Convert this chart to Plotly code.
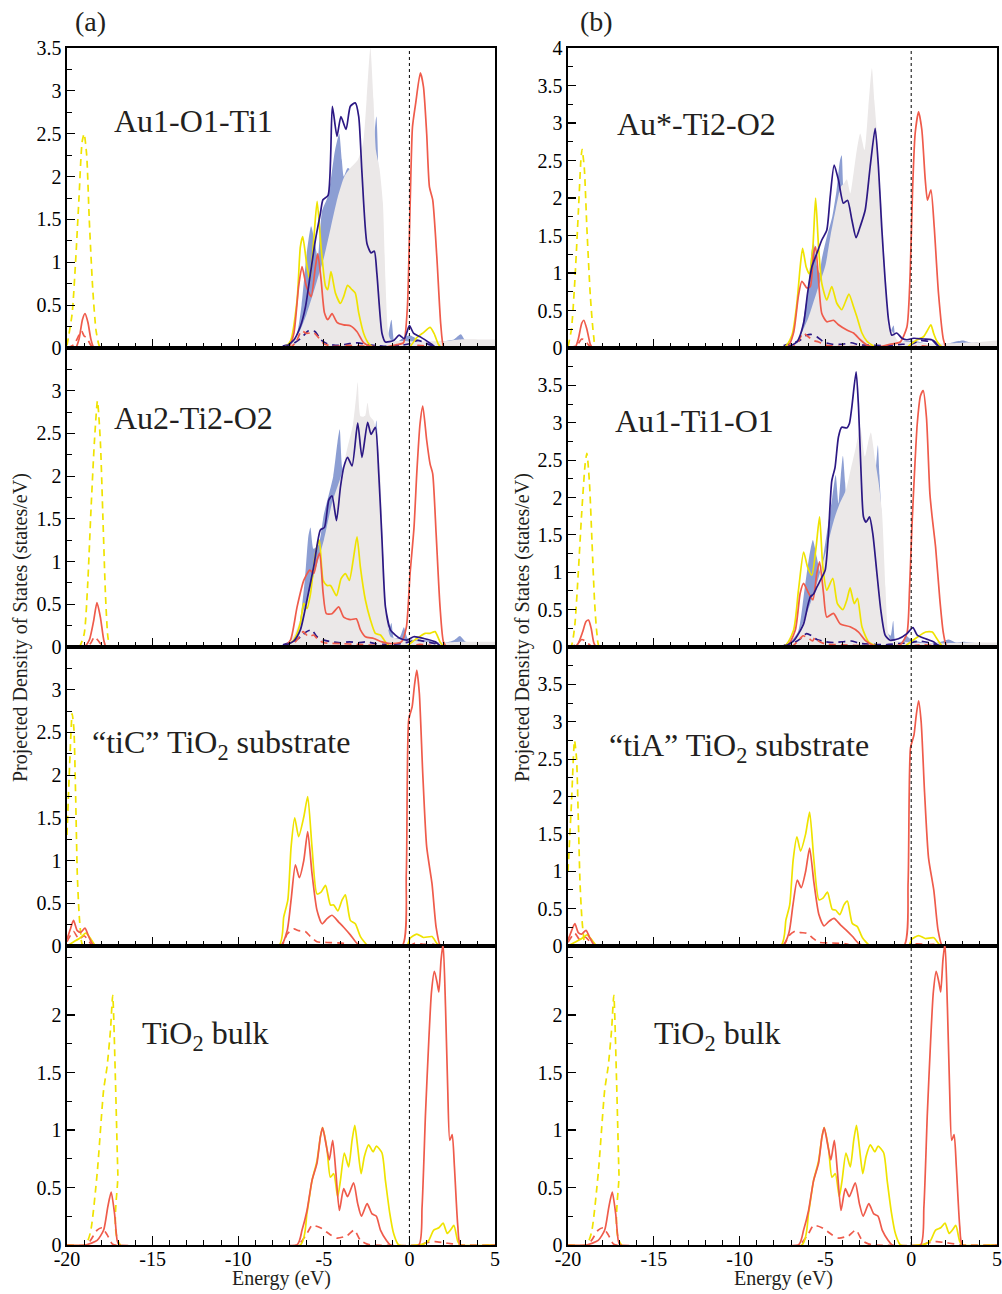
import plotly.graph_objects as go

# ---------------- data (energy eV, PDOS states/eV) ----------------
# Row 1, panel (a): Au1-O1-Ti1
A1_GREY = [(-7.4,0),(-6.8,0.08),(-6.4,0.2),(-6.0,0.4),(-5.6,0.65),(-5.3,0.85),(-5.0,1.05),(-4.6,1.4),(-4.2,1.75),(-3.8,2.0),(-3.45,2.1),(-3.0,2.2),(-2.7,2.4),(-2.5,2.9),(-2.28,3.5),(-2.1,2.9),(-1.95,2.3),(-1.75,2.1),(-1.55,1.7),(-1.4,0.8),(-1.25,0.2),(-1.1,0.1),(0,0.08),(1,0.08),(2,0.08),(3,0.1),(4,0.1),(5,0.1)]
A1_BLUE = [(-7.2,0),(-6.6,0.15),(-6.3,0.5),(-6.0,1.1),(-5.74,1.42),(-5.5,1.2),(-5.35,1.05),(-5.1,1.6),(-4.8,1.75),(-4.6,1.95),(-4.35,2.3),(-4.1,2.5),(-3.95,2.2),(-3.83,2.0),(-3.6,2.1),(-3.0,2.0),(-2.5,2.0),(-2.15,2.3),(-1.93,2.7),(-1.8,2.0),(-1.65,1.0),(-1.5,0.3),(-1.3,0.1),(-1.05,0.33),(-0.85,0.05),(-0.5,0.1),(0,0.15),(0.5,0.1),(1.0,0.05),(2.0,0.08),(2.6,0.1),(3.0,0.16),(3.3,0.08),(4.0,0.08),(5.0,0.05)]
A1_NAVY = [(-20,0),(-8.0,0),(-7.3,0.01),(-6.76,0.09),(-6.37,0.25),(-6.07,0.48),(-5.78,0.87),(-5.49,1.26),(-5.2,1.57),(-5.05,1.73),(-4.75,1.78),(-4.5,2.82),(-4.23,2.47),(-4.0,2.70),(-3.7,2.55),(-3.45,2.82),(-3.16,2.86),(-2.96,2.70),(-2.77,2.04),(-2.48,1.22),(-2.24,1.11),(-2.05,1.13),(-1.9,0.87),(-1.6,0.17),(-1.4,0.07),(-0.9,0.09),(-0.6,0.15),(-0.3,0.11),(0.0,0.26),(0.25,0.17),(0.64,0.13),(1.32,0.04),(1.6,0),(5,0)]
A1_NAVY_D = [(-20,0),(-8.2,0),(-7.5,0.02),(-6.8,0.05),(-6.3,0.12),(-5.9,0.2),(-5.5,0.19),(-5.2,0.1),(-4.8,0.05),(-4.2,0.03),(-3.5,0.05),(-3.0,0.06),(-2.5,0.04),(-2.0,0.03),(-1.5,0.02),(-0.5,0.03),(0,0.05),(0.5,0.09),(0.9,0.06),(1.3,0.03),(1.8,0),(5,0)]
A1_YEL = [(-20,0),(-7.4,0),(-6.95,0.08),(-6.56,0.56),(-6.37,1.18),(-6.23,1.30),(-5.98,0.95),(-5.82,0.8),(-5.59,1.26),(-5.39,1.71),(-5.16,1.18),(-4.9,0.72),(-4.77,0.68),(-4.58,0.89),(-4.32,0.64),(-4.03,0.52),(-3.84,0.6),(-3.61,0.73),(-3.35,0.68),(-3.16,0.64),(-2.96,0.41),(-2.67,0.17),(-2.37,0.05),(-2.0,0),(-0.3,0),(0.04,0.02),(0.43,0.12),(0.82,0.18),(1.21,0.24),(1.44,0.17),(1.7,0.04),(1.9,0),(5,0)]
A1_YEL_D = [(-20,0.03),(-19.7,0.4),(-19.5,1.0),(-19.3,1.75),(-19.12,2.4),(-19.0,2.5),(-18.85,2.25),(-18.7,1.5),(-18.5,0.7),(-18.3,0.2),(-18.1,0.02),(-17.9,0),(5,0)]
A1_RED = [(-20,0),(-19.5,0),(-19.3,0.1),(-19.1,0.33),(-18.95,0.4),(-18.78,0.3),(-18.6,0.1),(-18.4,0),(-7.1,0),(-6.76,0.16),(-6.47,0.72),(-6.27,0.95),(-6.02,0.72),(-5.74,0.6),(-5.49,0.95),(-5.35,1.1),(-5.16,0.8),(-4.96,0.41),(-4.77,0.33),(-4.52,0.4),(-4.23,0.3),(-3.84,0.27),(-3.45,0.26),(-3.06,0.19),(-2.67,0.06),(-2.28,0.02),(-1.5,0.01),(-0.74,0.04),(-0.35,0.06),(-0.12,0.47),(0.04,1.65),(0.18,2.58),(0.37,2.86),(0.64,3.21),(0.82,3.05),(1.01,2.5),(1.17,1.88),(1.36,1.73),(1.6,1.07),(1.83,0.28),(1.99,0.02),(2.2,0),(5,0)]
A1_RED_D = [(-20,0),(-19.6,0.04),(-19.3,0.15),(-19.15,0.2),(-19.0,0.14),(-18.85,0.12),(-18.6,0.03),(-18.4,0),(-7.0,0),(-6.6,0.08),(-6.3,0.2),(-6.0,0.17),(-5.6,0.18),(-5.3,0.12),(-5.0,0.05),(-4.5,0.02),(-3.5,0.03),(-2.5,0.02),(-1.5,0.01),(0.0,0.01),(0.5,0.03),(1.0,0.02),(1.5,0),(5,0)]

# Row 1, panel (b): Au*-Ti2-O2
B1_GREY = [(-7.3,0),(-6.8,0.08),(-6.5,0.15),(-6.0,0.4),(-5.5,0.75),(-5.0,1.1),(-4.7,1.5),(-4.4,1.85),(-4.1,2.15),(-3.9,2.2),(-3.75,2.25),(-3.55,2.06),(-3.36,2.33),(-3.17,2.64),(-2.97,2.86),(-2.72,2.64),(-2.5,3.2),(-2.29,3.73),(-2.15,3.3),(-2.04,3.0),(-1.88,2.3),(-1.72,1.89),(-1.52,1.0),(-1.32,0.28),(-1.03,0.2),(-0.8,0.1),(0,0.08),(1,0.06),(2,0.06),(3,0.07),(4,0.08),(5,0.1)]
B1_BLUE = [(-7.1,0),(-6.5,0.15),(-6.2,0.5),(-6.0,0.8),(-5.8,1.3),(-5.68,1.4),(-5.5,1.1),(-5.35,1.0),(-5.2,1.2),(-4.9,1.5),(-4.6,1.75),(-4.35,2.1),(-4.15,2.5),(-4.05,2.57),(-3.9,2.0),(-3.6,1.9),(-3.0,2.0),(-2.5,2.1),(-2.1,2.4),(-1.85,2.2),(-1.6,1.0),(-1.4,0.3),(-1.25,0.2),(-1.03,0.3),(-0.85,0.05),(-0.5,0.08),(0,0.1),(0.5,0.08),(1.0,0.05),(2.0,0.05),(2.5,0.08),(3.0,0.1),(3.5,0.07),(4.0,0.08),(4.5,0.06),(5.0,0.05)]
B1_NAVY = [(-20,0),(-7.44,0),(-6.66,0.08),(-6.27,0.33),(-6.04,0.73),(-5.79,1.08),(-5.5,1.26),(-5.21,1.44),(-4.92,1.57),(-4.72,2.02),(-4.49,2.44),(-4.24,2.24),(-3.95,1.93),(-3.71,1.97),(-3.46,1.71),(-3.21,1.47),(-2.97,1.62),(-2.68,1.84),(-2.39,2.42),(-2.1,2.93),(-1.91,2.42),(-1.72,1.62),(-1.52,0.91),(-1.32,0.37),(-1.13,0.17),(-0.84,0.2),(-0.54,0.13),(-0.25,0.11),(0.14,0.13),(0.72,0.12),(1.2,0.11),(1.5,0.04),(1.8,0),(5,0)]
B1_NAVY_D = [(-20,0),(-8.0,0),(-7.5,0.03),(-7.0,0.06),(-6.5,0.1),(-6.1,0.17),(-5.8,0.18),(-5.5,0.15),(-5.1,0.08),(-4.6,0.05),(-4.0,0.05),(-3.5,0.07),(-3.0,0.04),(-2.5,0.04),(-1.5,0.03),(-0.5,0.05),(0,0.05),(0.5,0.1),(1.0,0.09),(1.3,0.1),(1.6,0.03),(2.0,0),(5,0)]
B1_YEL = [(-20,0),(-7.44,0),(-6.95,0.17),(-6.66,0.6),(-6.47,1.08),(-6.33,1.33),(-6.12,1.08),(-5.94,0.99),(-5.73,1.35),(-5.57,2.0),(-5.4,1.35),(-5.21,0.86),(-4.92,0.64),(-4.63,0.82),(-4.34,0.6),(-4.05,0.51),(-3.86,0.6),(-3.63,0.72),(-3.36,0.55),(-3.17,0.42),(-2.87,0.2),(-2.58,0.09),(-2.29,0.04),(-2.0,0),(-0.3,0),(-0.04,0.05),(0.35,0.11),(0.72,0.15),(0.91,0.22),(1.15,0.31),(1.3,0.2),(1.5,0.09),(1.88,0),(5,0)]
B1_YEL_D = [(-20,0.02),(-19.8,0.25),(-19.6,0.9),(-19.4,1.8),(-19.25,2.5),(-19.18,2.65),(-19.05,2.4),(-18.9,1.6),(-18.7,0.7),(-18.5,0.15),(-18.35,0),(5,0)]
B1_RED = [(-20,0),(-19.6,0),(-19.4,0.12),(-19.2,0.33),(-19.08,0.37),(-18.9,0.25),(-18.7,0.05),(-18.55,0),(-7.25,0),(-6.86,0.2),(-6.57,0.7),(-6.37,0.89),(-6.08,0.8),(-5.88,0.82),(-5.69,1.26),(-5.57,1.35),(-5.4,0.9),(-5.21,0.46),(-4.92,0.35),(-4.53,0.37),(-4.24,0.31),(-3.75,0.24),(-3.36,0.2),(-2.97,0.11),(-2.58,0.04),(-2.0,0.01),(-1.23,0.05),(-0.64,0.08),(-0.25,0.28),(-0.06,1.0),(0.08,2.11),(0.23,2.86),(0.43,3.15),(0.62,2.91),(0.82,2.24),(0.95,1.97),(1.15,2.11),(1.34,1.62),(1.59,0.73),(1.88,0.11),(2.07,0),(5,0)]
B1_RED_D = [(-20,0),(-19.5,0.03),(-19.2,0.12),(-19.0,0.1),(-18.8,0.04),(-18.5,0),(-7.0,0),(-6.6,0.08),(-6.3,0.2),(-6.0,0.15),(-5.7,0.1),(-5.4,0.08),(-5.0,0.04),(-4.0,0.02),(-3.0,0.02),(0,0.01),(0.5,0.03),(1.0,0.02),(1.5,0),(5,0)]

# Row 2, panel (a): Au2-Ti2-O2
A2_GREY = [(-7.4,0),(-6.8,0.12),(-6.5,0.25),(-6.0,0.55),(-5.5,0.9),(-5.0,1.25),(-4.5,1.7),(-4.0,2.0),(-3.6,2.35),(-3.3,2.6),(-3.1,2.95),(-3.02,3.1),(-2.85,2.7),(-2.6,2.7),(-2.45,2.86),(-2.3,2.7),(-2.1,2.65),(-1.9,2.5),(-1.7,2.0),(-1.5,1.0),(-1.3,0.3),(-1.1,0.12),(0,0.08),(1,0.06),(2,0.05),(3,0.06),(4,0.06),(5,0.06)]
A2_BLUE = [(-7.1,0),(-6.5,0.2),(-6.1,0.8),(-5.9,1.3),(-5.78,1.4),(-5.6,1.15),(-5.3,1.2),(-5.0,1.55),(-4.75,1.75),(-4.45,2.0),(-4.2,2.4),(-4.07,2.55),(-3.92,2.1),(-3.7,2.0),(-3.0,2.2),(-2.5,2.3),(-2.1,2.4),(-1.93,2.65),(-1.8,2.2),(-1.6,1.4),(-1.4,0.5),(-1.2,0.2),(-1.05,0.28),(-0.9,0.1),(-0.55,0.12),(-0.32,0.23),(-0.1,0.1),(0.5,0.08),(1.0,0.08),(2.0,0.05),(2.6,0.08),(2.95,0.13),(3.3,0.06),(4.0,0.05),(5.0,0.05)]
A2_NAVY = [(-20,0),(-7.6,0),(-6.76,0.07),(-6.37,0.2),(-5.98,0.55),(-5.59,0.94),(-5.2,1.37),(-4.96,1.4),(-4.71,1.72),(-4.52,1.77),(-4.26,1.48),(-4.03,1.87),(-3.84,2.1),(-3.61,2.22),(-3.35,2.12),(-3.02,2.62),(-2.77,2.22),(-2.44,2.63),(-2.24,2.49),(-1.99,2.57),(-1.79,2.03),(-1.6,1.25),(-1.4,0.47),(-1.11,0.2),(-0.82,0.14),(-0.53,0.1),(-0.14,0.08),(0.25,0.12),(0.84,0.1),(1.52,0.06),(1.9,0),(5,0)]
A2_NAVY_D = [(-20,0),(-8.0,0),(-7.3,0.03),(-6.7,0.07),(-6.3,0.13),(-6.0,0.18),(-5.7,0.2),(-5.4,0.12),(-5.0,0.08),(-4.5,0.06),(-4.0,0.05),(-3.5,0.06),(-3.0,0.05),(-2.5,0.06),(-2.0,0.04),(-1.5,0.03),(-0.5,0.04),(0,0.06),(0.5,0.08),(1.0,0.06),(1.5,0.04),(2.0,0),(5,0)]
A2_YEL = [(-20,0),(-7.4,0),(-6.76,0.08),(-6.37,0.28),(-6.17,0.51),(-5.98,0.45),(-5.78,0.62),(-5.49,1.09),(-5.26,1.25),(-5.04,0.78),(-4.81,0.72),(-4.61,0.72),(-4.26,0.6),(-3.99,0.8),(-3.74,0.86),(-3.51,0.78),(-3.26,1.05),(-3.06,1.29),(-2.86,0.93),(-2.57,0.55),(-2.28,0.32),(-1.99,0.16),(-1.69,0.14),(-1.4,0.06),(-1.1,0),(-0.2,0),(0.04,0.04),(0.43,0.1),(0.92,0.16),(1.21,0.16),(1.5,0.18),(1.79,0.06),(2.05,0),(5,0)]
A2_YEL_D = [(-20,0),(-19.3,0),(-19.0,0.15),(-18.8,0.7),(-18.6,1.6),(-18.4,2.4),(-18.22,2.88),(-18.05,2.4),(-17.9,1.5),(-17.75,0.6),(-17.6,0.1),(-17.45,0),(5,0)]
A2_RED = [(-20,0),(-19.0,0),(-18.7,0.08),(-18.45,0.3),(-18.25,0.52),(-18.05,0.35),(-17.85,0.08),(-17.7,0),(-7.4,0),(-6.95,0.08),(-6.56,0.47),(-6.17,0.78),(-5.82,0.9),(-5.59,0.86),(-5.39,1.02),(-5.24,1.1),(-5.04,0.63),(-4.85,0.39),(-4.52,0.39),(-4.13,0.47),(-3.84,0.35),(-3.45,0.32),(-3.1,0.33),(-2.86,0.2),(-2.57,0.12),(-2.08,0.1),(-1.6,0.06),(-1.11,0.04),(-0.47,0.06),(-0.18,0.23),(0.04,0.86),(0.27,1.4),(0.43,2.03),(0.62,2.61),(0.78,2.82),(1.01,2.42),(1.21,2.14),(1.36,2.03),(1.56,1.33),(1.79,0.47),(1.99,0.06),(2.2,0),(5,0)]
A2_RED_D = [(-20,0),(-18.8,0),(-18.6,0.05),(-18.4,0.12),(-18.2,0.08),(-18.0,0.03),(-17.8,0),(-7.0,0),(-6.5,0.1),(-6.2,0.18),(-5.9,0.12),(-5.6,0.14),(-5.3,0.08),(-5.0,0.05),(-4.0,0.04),(-3.0,0.03),(-2.0,0.02),(0,0.01),(0.6,0.03),(1.2,0.02),(1.6,0),(5,0)]

# Row 2, panel (b): Au1-Ti1-O1
B2_GREY = [(-7.3,0),(-6.8,0.1),(-6.5,0.22),(-6.0,0.5),(-5.5,0.85),(-5.0,1.25),(-4.5,1.7),(-4.2,1.9),(-3.8,2.1),(-3.5,2.4),(-3.2,2.7),(-2.97,2.94),(-2.7,2.55),(-2.5,2.75),(-2.35,2.87),(-2.1,2.5),(-1.9,2.2),(-1.7,1.8),(-1.5,0.8),(-1.35,0.2),(-1.2,0.1),(0,0.06),(1,0.05),(2,0.05),(3,0.06),(4,0.06),(5,0.06)]
B2_BLUE = [(-7.3,0),(-6.6,0.2),(-6.2,0.8),(-5.95,1.2),(-5.73,1.43),(-5.5,1.2),(-5.3,1.0),(-5.0,1.4),(-4.8,1.7),(-4.6,2.0),(-4.4,2.3),(-4.24,1.92),(-4.1,2.3),(-3.98,2.56),(-3.85,2.2),(-3.75,1.95),(-3.5,2.0),(-3.0,2.1),(-2.5,2.2),(-2.2,2.0),(-2.05,2.4),(-1.94,2.7),(-1.85,2.3),(-1.7,1.6),(-1.55,0.8),(-1.4,0.2),(-1.2,0.15),(-1.05,0.35),(-0.9,0.05),(-0.5,0.08),(-0.3,0.15),(0,0.1),(1,0.05),(1.6,0.06),(2.2,0.1),(2.6,0.06),(3,0.07),(4,0.05),(5,0.04)]
B2_NAVY = [(-20,0),(-7.63,0),(-6.86,0.08),(-6.27,0.31),(-6.04,0.54),(-5.88,0.67),(-5.69,0.71),(-5.5,0.8),(-5.21,0.93),(-5.01,1.03),(-4.82,1.52),(-4.63,2.22),(-4.44,2.4),(-4.24,2.81),(-4.05,2.94),(-3.75,2.93),(-3.6,2.99),(-3.46,3.21),(-3.21,3.68),(-3.07,3.21),(-2.92,2.32),(-2.78,1.74),(-2.63,1.67),(-2.43,1.74),(-2.24,1.52),(-2.0,0.99),(-1.77,0.49),(-1.52,0.16),(-1.23,0.09),(-0.74,0.11),(-0.25,0.18),(0.1,0.26),(0.35,0.16),(0.84,0.11),(1.3,0.07),(1.7,0),(5,0)]
B2_NAVY_D = [(-20,0),(-8.0,0),(-7.3,0.03),(-6.8,0.06),(-6.4,0.12),(-6.1,0.18),(-5.8,0.15),(-5.5,0.1),(-5.0,0.07),(-4.5,0.06),(-4.0,0.07),(-3.5,0.08),(-3.0,0.05),(-2.5,0.04),(-1.5,0.03),(-0.5,0.05),(0,0.06),(0.5,0.08),(1.0,0.06),(1.5,0.03),(2.0,0),(5,0)]
B2_YEL = [(-20,0),(-7.44,0),(-6.86,0.22),(-6.57,0.76),(-6.27,1.27),(-6.04,1.07),(-5.79,0.96),(-5.54,1.34),(-5.34,1.74),(-5.15,1.07),(-4.92,0.76),(-4.57,0.92),(-4.3,0.58),(-3.98,0.5),(-3.75,0.63),(-3.56,0.79),(-3.32,0.58),(-3.13,0.65),(-2.87,0.27),(-2.49,0.07),(-2.1,0.02),(-1.8,0),(-0.4,0),(-0.25,0.03),(0.35,0.13),(0.84,0.2),(1.23,0.2),(1.5,0.11),(1.88,0),(5,0)]
B2_YEL_D = [(-20,0),(-19.8,0.02),(-19.6,0.3),(-19.4,1.0),(-19.2,1.8),(-19.0,2.45),(-18.9,2.59),(-18.75,2.2),(-18.6,1.4),(-18.45,0.6),(-18.3,0.15),(-18.15,0),(5,0)]
B2_RED = [(-20,0),(-19.6,0),(-19.4,0.05),(-19.15,0.2),(-18.95,0.34),(-18.8,0.36),(-18.65,0.25),(-18.5,0.06),(-18.35,0),(-7.3,0),(-6.76,0.22),(-6.47,0.72),(-6.27,0.85),(-5.98,0.72),(-5.73,0.63),(-5.5,0.99),(-5.34,1.14),(-5.11,0.72),(-4.92,0.4),(-4.53,0.45),(-4.14,0.31),(-3.56,0.27),(-3.07,0.2),(-2.68,0.09),(-2.2,0.02),(-1.5,0.01),(-0.64,0.03),(-0.25,0.18),(-0.1,0.76),(0.04,1.6),(0.19,2.32),(0.35,2.98),(0.54,3.36),(0.7,3.43),(0.89,3.07),(1.09,2.05),(1.22,1.74),(1.42,1.34),(1.67,0.63),(1.88,0.18),(2.11,0),(5,0)]
B2_RED_D = [(-20,0),(-19.5,0.03),(-19.2,0.1),(-19.0,0.08),(-18.7,0.02),(-18.5,0),(-7.0,0),(-6.6,0.08),(-6.3,0.15),(-6.0,0.12),(-5.75,0.08),(-5.6,0.13),(-5.4,0.08),(-5.0,0.04),(-4.0,0.03),(-3.0,0.02),(0,0.01),(0.5,0.03),(1.2,0.02),(1.6,0),(5,0)]

# Row 3, panel (a): "tiC" TiO2 substrate
A3_YEL = [(-20,0),(-19.6,0.05),(-19.2,0.1),(-18.9,0.15),(-18.6,0.08),(-18.3,0),(-7.63,0),(-7.34,0.34),(-7.1,0.54),(-6.91,1.16),(-6.7,1.5),(-6.47,1.28),(-6.17,1.51),(-5.94,1.75),(-5.69,1.16),(-5.4,0.61),(-5.16,0.63),(-4.9,0.71),(-4.61,0.48),(-4.42,0.48),(-4.18,0.41),(-3.93,0.54),(-3.74,0.6),(-3.45,0.3),(-3.16,0.26),(-2.86,0.11),(-2.47,0.01),(-2.3,0),(-0.16,0),(0.04,0.09),(0.43,0.14),(0.82,0.1),(1.32,0.11),(1.6,0.03),(1.8,0),(5,0)]
A3_YEL_D = [(-20,1.3),(-19.85,2.1),(-19.7,2.72),(-19.6,2.55),(-19.5,1.8),(-19.4,0.85),(-19.3,0.4),(-19.2,0.15),(-19.05,0),(5,0)]
A3_RED = [(-20,0.08),(-19.8,0.2),(-19.62,0.3),(-19.4,0.18),(-19.2,0.16),(-18.95,0.21),(-18.75,0.12),(-18.5,0.02),(-18.3,0),(-7.53,0),(-7.14,0.18),(-6.91,0.54),(-6.66,0.95),(-6.43,0.8),(-6.17,1.0),(-5.94,1.34),(-5.69,0.85),(-5.4,0.42),(-5.1,0.26),(-4.81,0.32),(-4.52,0.36),(-4.13,0.28),(-3.84,0.22),(-3.45,0.13),(-3.06,0.03),(-2.7,0),(-0.43,0),(-0.18,0.85),(-0.04,2.65),(0.16,2.8),(0.29,3.04),(0.43,3.23),(0.58,2.96),(0.78,2.02),(1.01,1.16),(1.32,0.73),(1.56,0.22),(1.79,0.01),(2.0,0),(5,0)]
A3_RED_D = [(-20,0.05),(-19.62,0.17),(-19.3,0.08),(-19.0,0.12),(-18.7,0.05),(-18.5,0),(-7.5,0),(-7.14,0.14),(-6.76,0.2),(-6.47,0.18),(-6.08,0.17),(-5.78,0.11),(-5.4,0.05),(-4.61,0.04),(-3.84,0.03),(-3.3,0),(0.0,0),(0.3,0.03),(0.8,0.02),(1.4,0.02),(1.7,0),(5,0)]

# Row 3, panel (b): "tiA" TiO2 substrate
B3_YEL = [(-20,0),(-19.6,0.05),(-19.2,0.1),(-18.9,0.15),(-18.6,0.08),(-18.3,0),(-7.6,0),(-7.3,0.35),(-7.08,0.55),(-6.88,1.15),(-6.66,1.46),(-6.45,1.27),(-6.15,1.5),(-5.92,1.79),(-5.67,1.15),(-5.38,0.62),(-5.14,0.64),(-4.88,0.72),(-4.6,0.49),(-4.4,0.48),(-4.16,0.42),(-3.92,0.55),(-3.72,0.6),(-3.43,0.3),(-3.14,0.26),(-2.84,0.11),(-2.45,0.01),(-2.3,0),(-0.16,0),(0.04,0.09),(0.43,0.14),(0.82,0.1),(1.32,0.11),(1.6,0.03),(1.8,0),(5,0)]
B3_YEL_D = [(-20,1.0),(-19.8,1.9),(-19.62,2.75),(-19.5,2.5),(-19.4,1.7),(-19.3,0.85),(-19.2,0.4),(-19.1,0.15),(-18.95,0),(5,0)]
B3_RED = [(-20,0.08),(-19.8,0.2),(-19.6,0.3),(-19.4,0.18),(-19.2,0.16),(-18.95,0.21),(-18.75,0.12),(-18.5,0.02),(-18.3,0),(-7.5,0),(-7.12,0.18),(-6.89,0.55),(-6.64,0.88),(-6.41,0.78),(-6.15,1.0),(-5.92,1.31),(-5.67,0.85),(-5.38,0.42),(-5.08,0.27),(-4.79,0.33),(-4.5,0.37),(-4.11,0.28),(-3.82,0.22),(-3.43,0.13),(-3.04,0.03),(-2.7,0),(-0.43,0),(-0.18,0.85),(-0.04,2.65),(0.16,2.82),(0.29,3.08),(0.43,3.28),(0.58,3.0),(0.78,2.05),(1.01,1.18),(1.32,0.74),(1.56,0.22),(1.79,0.01),(2.0,0),(5,0)]
B3_RED_D = [(-20,0.05),(-19.6,0.17),(-19.3,0.08),(-19.0,0.12),(-18.7,0.05),(-18.5,0),(-7.5,0),(-7.12,0.14),(-6.74,0.2),(-6.45,0.18),(-6.06,0.17),(-5.76,0.11),(-5.38,0.05),(-4.6,0.04),(-3.82,0.03),(-3.3,0),(0.0,0),(0.3,0.03),(0.8,0.02),(1.4,0.02),(1.7,0),(5,0)]

# Row 4: TiO2 bulk (same in both columns)
BULK_YEL = [(-20,0),(-6.37,0),(-5.98,0.28),(-5.69,0.56),(-5.4,0.73),(-5.2,0.94),(-5.07,1.02),(-4.81,0.83),(-4.62,0.59),(-4.42,0.62),(-4.19,0.42),(-4.03,0.56),(-3.8,0.8),(-3.55,0.68),(-3.35,0.91),(-3.19,1.04),(-3.02,0.85),(-2.82,0.62),(-2.63,0.77),(-2.38,0.87),(-2.12,0.81),(-1.93,0.86),(-1.6,0.8),(-1.4,0.56),(-1.15,0.28),(-0.92,0.1),(-0.62,0),(0.84,0.01),(1.13,0.04),(1.42,0.13),(1.72,0.15),(1.97,0.19),(2.21,0.1),(2.4,0.13),(2.6,0.17),(2.83,0.03),(3.0,0),(5,0)]
BULK_YEL_D = [(-20,0),(-18.93,0),(-18.63,0.11),(-18.24,0.62),(-17.86,1.35),(-17.66,1.55),(-17.46,1.87),(-17.33,2.17),(-17.17,1.43),(-17.03,0.62),(-16.87,0),(5,0)]
BULK_RED = [(-20,0),(-18.93,0),(-18.24,0.04),(-17.86,0.13),(-17.62,0.33),(-17.42,0.46),(-17.22,0.27),(-17.07,0.04),(-16.95,0),(-6.57,0),(-6.27,0.13),(-5.98,0.3),(-5.69,0.56),(-5.4,0.71),(-5.2,0.94),(-5.07,1.02),(-4.85,0.86),(-4.68,0.74),(-4.48,0.91),(-4.29,0.62),(-4.09,0.3),(-3.84,0.49),(-3.61,0.42),(-3.26,0.54),(-3.02,0.36),(-2.8,0.25),(-2.47,0.36),(-2.18,0.27),(-1.93,0.25),(-1.69,0.13),(-1.34,0.04),(-1.11,0),(0.55,0),(0.74,0.33),(0.94,1.14),(1.13,1.77),(1.29,2.2),(1.46,2.38),(1.62,2.28),(1.72,2.2),(1.85,2.48),(1.97,2.62),(2.11,2.07),(2.24,1.35),(2.36,0.91),(2.5,0.96),(2.63,0.68),(2.83,0.16),(2.99,0),(5,0)]
BULK_RED_D = [(-20,0),(-18.9,0),(-18.63,0.04),(-18.24,0.13),(-17.95,0.15),(-17.66,0.09),(-17.36,0.01),(-17.2,0),(-6.6,0),(-6.37,0.02),(-5.98,0.1),(-5.69,0.17),(-5.2,0.15),(-4.62,0.09),(-4.23,0.06),(-3.65,0.08),(-3.22,0.13),(-2.86,0.04),(-2.5,0.01),(-2.2,0),(0.6,0),(1.0,0.02),(1.5,0.03),(2.0,0.02),(2.5,0.01),(3.0,0),(5,0)]

PANEL_LABELS = ["Au1-O1-Ti1", "Au*-Ti2-O2", "Au2-Ti2-O2", "Au1-Ti1-O1",
                "\u201ctiC\u201d TiO<sub>2</sub> substrate", "\u201ctiA\u201d TiO<sub>2</sub> substrate",
                "TiO<sub>2</sub> bulk", "TiO<sub>2</sub> bulk"]
X_TICKS = [-20, -15, -10, -5, 0, 5]
X_TICK_TEXT = ["-20", "-15", "-10", "-5", "0", "5"]
Y_MAX = [3.5, 4.0, 3.5, 4.0, 3.5, 4.0, 2.6, 2.6]
Y_TICKS = [
    [0, 0.5, 1, 1.5, 2, 2.5, 3, 3.5],
    [0, 0.5, 1, 1.5, 2, 2.5, 3, 3.5, 4],
    [0, 0.5, 1, 1.5, 2, 2.5, 3],
    [0, 0.5, 1, 1.5, 2, 2.5, 3, 3.5],
    [0, 0.5, 1, 1.5, 2, 2.5, 3],
    [0, 0.5, 1, 1.5, 2, 2.5, 3, 3.5],
    [0, 0.5, 1, 1.5, 2],
    [0, 0.5, 1, 1.5, 2],
]

# ---------------- styling / layout ----------------
# page body margin is removed by a post script, so figure pixels == page pixels
W, H = 1002, 1294
FONT = "Liberation Serif, Times New Roman, serif"
TXT = "#231f20"
YEL, RED, NAVY = "#efe300", "#ef5b4b", "#2c1884"
BLUEF, GREYF = "#8c9ed3", "#ebe8e8"

XPIX = [(67, 495), (568, 997)]
YPIX = [(48, 348), (348, 647), (647, 946), (946, 1245)]


def fx(px):
    return px / W


def fy(py):
    return 1 - py / H


# series table: (fill_blue, fill_grey, navy, navy_dash, yel, yel_dash, red, red_dash)
SERIES = [
    (A1_BLUE, A1_GREY, A1_NAVY, A1_NAVY_D, A1_YEL, A1_YEL_D, A1_RED, A1_RED_D),
    (B1_BLUE, B1_GREY, B1_NAVY, B1_NAVY_D, B1_YEL, B1_YEL_D, B1_RED, B1_RED_D),
    (A2_BLUE, A2_GREY, A2_NAVY, A2_NAVY_D, A2_YEL, A2_YEL_D, A2_RED, A2_RED_D),
    (B2_BLUE, B2_GREY, B2_NAVY, B2_NAVY_D, B2_YEL, B2_YEL_D, B2_RED, B2_RED_D),
    (None, None, None, None, A3_YEL, A3_YEL_D, A3_RED, A3_RED_D),
    (None, None, None, None, B3_YEL, B3_YEL_D, B3_RED, B3_RED_D),
    (None, None, None, None, BULK_YEL, BULK_YEL_D, BULK_RED, BULK_RED_D),
    (None, None, None, None, BULK_YEL, BULK_YEL_D, BULK_RED, BULK_RED_D),
]


def xy(pts):
    return [p[0] for p in pts], [p[1] for p in pts]


fig = go.Figure()
layout = dict(width=W, height=H, margin=dict(l=0, r=0, t=0, b=0, autoexpand=False),
              paper_bgcolor="white", plot_bgcolor="white", showlegend=False,
              font=dict(family=FONT, color=TXT), template="none")
shapes, annotations = [], []

for k in range(8):
    row, col = divmod(k, 2)
    n = k + 1
    xs = "x" if n == 1 else f"x{n}"
    ys = "y" if n == 1 else f"y{n}"
    xa = "xaxis" if n == 1 else f"xaxis{n}"
    ya = "yaxis" if n == 1 else f"yaxis{n}"
    x0, x1 = XPIX[col]
    y0, y1 = YPIX[row]
    bottom = row == 3
    layout[xa] = dict(domain=[fx(x0), fx(x1)], range=[-20, 5], anchor=ys,
                      automargin=False, ticklabeloverflow="allow",
                      tickvals=X_TICKS, ticktext=X_TICK_TEXT, ticks="inside", ticklen=9,
                      tickwidth=1.2, tickcolor="black", showticklabels=bottom,
                      ticklabelstandoff=-5,
                      tickfont=dict(family=FONT, size=20, color="black"),
                      minor=dict(dtick=1, tick0=0, ticks="inside", ticklen=5,
                                 tickwidth=1, tickcolor="black"),
                      showline=True, linecolor="black", linewidth=1.6, mirror=True,
                      showgrid=False, zeroline=False, fixedrange=True)
    layout[ya] = dict(domain=[fy(y1), fy(y0)], range=[0, Y_MAX[k]], anchor=xs,
                      automargin=False,
                      tickvals=Y_TICKS[k], ticks="inside", ticklen=8, tickwidth=1.2,
                      tickcolor="black", tickfont=dict(family=FONT, size=20, color="black"),
                      minor=dict(dtick=0.25, tick0=0, ticks="inside", ticklen=5,
                                 tickwidth=1, tickcolor="black"),
                      showline=True, linecolor="black", linewidth=1.6, mirror=True,
                      showgrid=False, zeroline=False, fixedrange=True)

    blue, grey, navy, navy_d, yel, yel_d, red, red_d = SERIES[k]
    for pts, col_ in ((blue, BLUEF), (grey, GREYF)):
        if pts is None:
            continue
        ex, dv = xy(pts)
        fig.add_trace(go.Scatter(x=ex, y=dv, xaxis=xs, yaxis=ys, mode="lines",
                                 fill="tozeroy", fillcolor=col_,
                                 line=dict(width=0, color=col_, shape="spline", smoothing=0.6),
                                 hoverinfo="skip"))
    lines = [(navy_d, NAVY, "7px,5px"), (red_d, RED, "7px,5px"), (yel_d, YEL, "7px,5px"),
             (yel, YEL, "solid"), (red, RED, "solid"), (navy, NAVY, "solid")]
    for pts, c, d in lines:
        if pts is None:
            continue
        ex, dv = xy(pts)
        fig.add_trace(go.Scatter(x=ex, y=dv, xaxis=xs, yaxis=ys, mode="lines",
                                 line=dict(width=1.7, color=c, dash=d, shape="spline", smoothing=0.6),
                                 hoverinfo="skip"))

    shapes.append(dict(type="line", xref=xs, yref=f"{ys} domain", x0=0, x1=0, y0=0, y1=1,
                       line=dict(color="black", width=1, dash="dot"), layer="above"))

# panel labels (positions in page pixels)
LABEL_POS = [(112, 121), (615, 124), (112, 418), (613, 421),
             (90, 745), (607, 747), (140, 1035), (652, 1035)]
for txt, (px, py) in zip(PANEL_LABELS, LABEL_POS):
    annotations.append(dict(text=txt, x=fx(px), y=fy(py), xref="paper", yref="paper",
                            xanchor="left", yanchor="middle", showarrow=False,
                            font=dict(family=FONT, size=32, color=TXT)))

for txt, px in (("(a)", 90), ("(b)", 596)):
    annotations.append(dict(text=txt, x=fx(px), y=fy(21), xref="paper", yref="paper",
                            xanchor="center", yanchor="middle", showarrow=False,
                            font=dict(family=FONT, size=28, color=TXT)))

for px in (21, 523):
    annotations.append(dict(text="Projected Density of States (states/eV)", textangle=-90,
                            x=fx(px), y=fy(628), xref="paper", yref="paper",
                            xanchor="center", yanchor="middle", showarrow=False,
                            font=dict(family=FONT, size=20, color=TXT)))
for px in (281, 783):
    annotations.append(dict(text="Energy (eV)", x=fx(px), y=fy(1278),
                            xref="paper", yref="paper", xanchor="center", yanchor="middle",
                            showarrow=False, font=dict(family=FONT, size=20, color=TXT)))

layout["shapes"] = shapes
layout["annotations"] = annotations
fig.update_layout(**layout)
fig.write_html(
    "out.html",
    config={"displayModeBar": False, "staticPlot": True},
    post_script=("document.body.style.margin='0';"
                 "document.documentElement.style.overflow='hidden';"
                 "document.body.style.overflow='hidden';"),
)
